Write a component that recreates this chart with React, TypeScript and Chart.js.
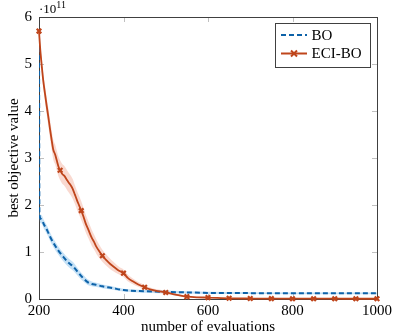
import React, { useEffect, useRef } from "react";
import { Chart, registerables } from "chart.js";

Chart.register(...registerables);

// values in units of 1e11
const boX = [200, 201, 205, 212, 220, 226, 235, 245, 257, 270, 281, 293, 305, 315, 325, 336, 350, 375, 400, 450, 486, 550, 600, 700, 800, 900, 1000];
const boMean = [5.7, 1.8, 1.7, 1.58, 1.45, 1.33, 1.18, 1.04, 0.9, 0.77, 0.69, 0.56, 0.44, 0.36, 0.32, 0.3, 0.27, 0.23, 0.19, 0.165, 0.155, 0.14, 0.13, 0.125, 0.12, 0.12, 0.12];
const boSpread = [0.05, 0.09, 0.09, 0.09, 0.09, 0.09, 0.09, 0.09, 0.09, 0.09, 0.09, 0.08, 0.07, 0.06, 0.05, 0.045, 0.04, 0.035, 0.03, 0.03, 0.03, 0.025, 0.025, 0.02, 0.02, 0.02, 0.02];

const eciX = [200, 203, 206, 210, 214, 218, 222, 226, 230, 234, 238, 242, 246, 250, 255, 260, 265, 270, 275, 280, 285, 290, 295, 300, 305, 310, 317, 325, 330, 336, 343, 350, 360, 368, 376, 385, 392, 400, 410, 423, 435, 450, 465, 480, 500, 515, 530, 550, 575, 600, 650, 700, 750, 800, 850, 900, 950, 1000];
const eciMean = [5.7, 5.3, 5.01, 4.65, 4.38, 4.12, 3.88, 3.62, 3.38, 3.17, 3.08, 2.95, 2.82, 2.74, 2.66, 2.62, 2.55, 2.48, 2.42, 2.34, 2.22, 2.1, 1.99, 1.88, 1.76, 1.62, 1.47, 1.3, 1.22, 1.11, 1.01, 0.92, 0.82, 0.75, 0.69, 0.63, 0.59, 0.55, 0.45, 0.37, 0.31, 0.25, 0.2, 0.17, 0.14, 0.11, 0.08, 0.05, 0.035, 0.03, 0.015, 0.01, 0.008, 0.007, 0.006, 0.006, 0.005, 0.005];
const eciSpread = [0.03, 0.1, 0.13, 0.15, 0.17, 0.18, 0.19, 0.2, 0.2, 0.21, 0.21, 0.21, 0.21, 0.21, 0.21, 0.21, 0.21, 0.21, 0.21, 0.21, 0.2, 0.2, 0.2, 0.2, 0.19, 0.19, 0.18, 0.17, 0.16, 0.15, 0.14, 0.13, 0.12, 0.11, 0.1, 0.09, 0.08, 0.08, 0.07, 0.06, 0.05, 0.045, 0.04, 0.035, 0.03, 0.025, 0.02, 0.015, 0.012, 0.01, 0.008, 0.006, 0.005, 0.005, 0.005, 0.005, 0.005, 0.005];

const xTicks = [200, 400, 600, 800, 1000];
const yTicks = [0, 1, 2, 3, 4, 5, 6];
const seriesNames = ["BO", "ECI-BO"];

const BLUE = "#0d62a8";
const ORANGE = "#bf451b";
const FONT = "'Liberation Serif', 'Times New Roman', serif";

const pts = (xs: number[], ys: number[]) => xs.map((x, i) => ({ x, y: ys[i] }));

const framePlugin = {
  id: "frame",
  beforeDatasetsDraw(chart: any) {
    const { ctx, chartArea: a, scales } = chart;
    ctx.save();
    ctx.strokeStyle = "#b0b0b0";
    ctx.lineWidth = 0.8;
    const tl = 5;
    xTicks.forEach((v) => {
      const px = Math.round(scales.x.getPixelForValue(v)) + 0.5;
      ctx.beginPath();
      ctx.moveTo(px, a.bottom);
      ctx.lineTo(px, a.bottom - tl);
      ctx.moveTo(px, a.top);
      ctx.lineTo(px, a.top + tl);
      ctx.stroke();
    });
    yTicks.forEach((v) => {
      const py = Math.round(scales.y.getPixelForValue(v)) + 0.5;
      ctx.beginPath();
      ctx.moveTo(a.left, py);
      ctx.lineTo(a.left + tl, py);
      ctx.moveTo(a.right, py);
      ctx.lineTo(a.right - tl, py);
      ctx.stroke();
    });
    ctx.strokeStyle = "#404040";
    ctx.lineWidth = 1;
    ctx.strokeRect(Math.round(a.left) + 0.5, Math.round(a.top) + 0.5, Math.round(a.right - a.left), Math.round(a.bottom - a.top));
    ctx.restore();
  },
  afterDraw(chart: any) {
    const { ctx, chartArea: a } = chart;
    ctx.save();
    // exponent label
    ctx.fillStyle = "#000";
    ctx.textBaseline = "alphabetic";
    ctx.textAlign = "left";
    ctx.font = `13px ${FONT}`;
    ctx.fillText("·10", a.left, 13);
    const w = ctx.measureText("·10").width;
    ctx.font = `10px ${FONT}`;
    ctx.fillText("11", a.left + w, 8);
    // legend
    const lx = 275.5, ly = 23.5, lw = 95, lh = 44;
    ctx.fillStyle = "#fff";
    ctx.fillRect(lx, ly, lw, lh);
    ctx.strokeStyle = "#404040";
    ctx.lineWidth = 1;
    ctx.strokeRect(lx, ly, lw, lh);
    const rows = [35, 53.5];
    // BO
    ctx.strokeStyle = BLUE;
    ctx.lineWidth = 2;
    ctx.setLineDash([5, 3]);
    ctx.beginPath();
    ctx.moveTo(281, rows[0]);
    ctx.lineTo(307, rows[0]);
    ctx.stroke();
    ctx.setLineDash([]);
    // ECI-BO
    ctx.strokeStyle = ORANGE;
    ctx.beginPath();
    ctx.moveTo(281, rows[1]);
    ctx.lineTo(307, rows[1]);
    ctx.stroke();
    const r = 3;
    ctx.beginPath();
    ctx.moveTo(294 - r, rows[1] - r);
    ctx.lineTo(294 + r, rows[1] + r);
    ctx.moveTo(294 - r, rows[1] + r);
    ctx.lineTo(294 + r, rows[1] - r);
    ctx.stroke();
    ctx.fillStyle = "#000";
    ctx.font = `15px ${FONT}`;
    ctx.textBaseline = "middle";
    ctx.fillText(seriesNames[0], 311.5, rows[0] + 1);
    ctx.fillText(seriesNames[1], 311.5, rows[1] + 1);
    ctx.restore();
  },
};

export default function App() {
  const ref = useRef<HTMLCanvasElement | null>(null);
  useEffect(() => {
    if (!ref.current) return;
    const markerRadius = (c: any) => (eciX[c.dataIndex] % 50 === 0 ? 3.2 : 0);
    const smooth = { cubicInterpolationMode: "monotone" as const };
    const chart = new Chart(ref.current, {
      type: "line",
      data: {
        datasets: [
          {
            label: "bo-lower",
            data: pts(boX, boMean.map((m, i) => m - boSpread[i])),
            borderWidth: 0,
            pointRadius: 0,
            fill: false,
            order: 5,
            ...smooth,
          },
          {
            label: "bo-upper",
            data: pts(boX, boMean.map((m, i) => m + boSpread[i])),
            borderWidth: 0,
            pointRadius: 0,
            backgroundColor: "rgba(110,180,232,0.4)",
            fill: "-1",
            order: 5,
            ...smooth,
          },
          {
            label: "eci-lower",
            data: pts(eciX, eciMean.map((m, i) => Math.max(0, m - eciSpread[i]))),
            borderWidth: 0,
            pointRadius: 0,
            fill: false,
            order: 4,
            ...smooth,
          },
          {
            label: "eci-upper",
            data: pts(eciX, eciMean.map((m, i) => m + eciSpread[i])),
            borderWidth: 0,
            pointRadius: 0,
            backgroundColor: "rgba(236,130,100,0.3)",
            fill: "-1",
            order: 4,
            ...smooth,
          },
          {
            label: seriesNames[0],
            data: pts(boX, boMean),
            borderColor: BLUE,
            borderWidth: 2,
            borderDash: [5, 3],
            pointRadius: 0,
            fill: false,
            order: 2,
            ...smooth,
          },
          {
            label: seriesNames[1],
            data: pts(eciX, eciMean),
            borderColor: ORANGE,
            borderWidth: 1.8,
            pointStyle: "crossRot",
            pointRadius: markerRadius,
            pointBorderColor: ORANGE,
            pointBorderWidth: 2.2,
            fill: false,
            clip: false as any,
            order: 1,
            ...smooth,
          },
        ],
      },
      options: {
        animation: false,
        responsive: false,
        events: [],
        layout: { padding: { top: 17, right: 21, left: 0, bottom: 0 } },
        plugins: { legend: { display: false }, tooltip: { enabled: false } },
        scales: {
          x: {
            type: "linear",
            min: 200,
            max: 1000,
            afterFit: (s: any) => {
              s.height = 37;
            },
            afterBuildTicks: (s: any) => {
              s.ticks = xTicks.map((v) => ({ value: v }));
            },
            grid: { display: false, drawTicks: false },
            border: { display: false },
            ticks: {
              color: "#000",
              font: { family: FONT, size: 15 },
              padding: 3,
              maxRotation: 0,
              autoSkip: false,
              callback: (v: any) => String(v),
            },
            title: {
              display: true,
              text: "number of evaluations",
              color: "#000",
              font: { family: FONT, size: 15 },
              padding: { top: 0, bottom: 0 },
            },
          },
          y: {
            type: "linear",
            min: 0,
            max: 6,
            afterFit: (s: any) => {
              s.width = 39;
            },
            afterBuildTicks: (s: any) => {
              s.ticks = yTicks.map((v) => ({ value: v }));
            },
            grid: { display: false, drawTicks: false },
            border: { display: false },
            ticks: {
              color: "#000",
              font: { family: FONT, size: 15 },
              padding: 7,
              autoSkip: false,
              callback: (v: any) => String(v),
            },
            title: {
              display: true,
              text: "best objective value",
              color: "#000",
              font: { family: FONT, size: 15 },
              padding: { top: 5, bottom: 0 },
            },
          },
        },
      },
      plugins: [framePlugin],
    });
    return () => chart.destroy();
  }, []);
  return (
    <div style={{ position: "fixed", left: 0, top: 0, width: 398, height: 336, background: "#fff" }}>
      <canvas ref={ref} width={398} height={336} style={{ width: 398, height: 336 }} />
    </div>
  );
}
